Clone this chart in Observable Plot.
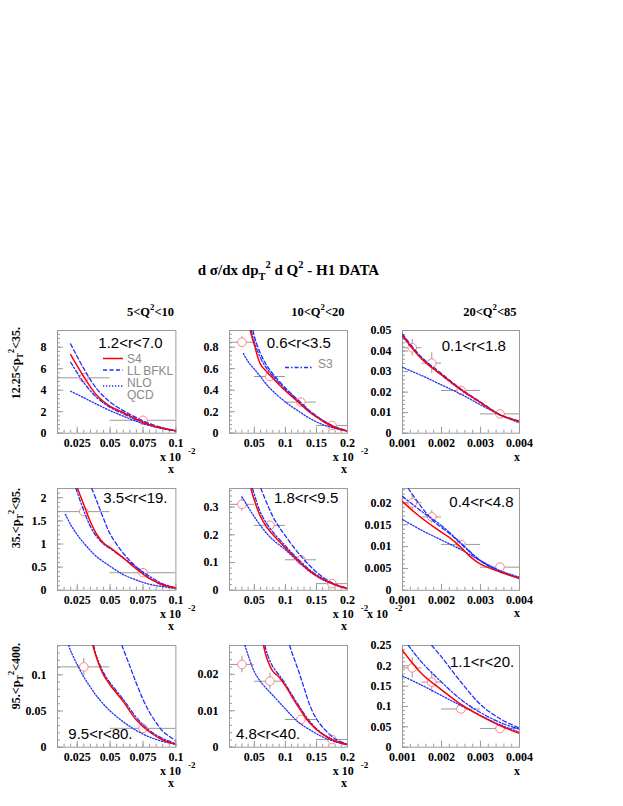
<!DOCTYPE html>
<html><head><meta charset="utf-8">
<script src="https://cdn.jsdelivr.net/npm/d3@7"></script>
<script src="https://cdn.jsdelivr.net/npm/@observablehq/plot@0.6"></script>
<style>
body{margin:0;background:#fff;}
#root{position:relative;width:623px;height:806px;overflow:hidden;background:#fff;}
.panel{position:absolute;}
#overlay{position:absolute;left:0;top:0;pointer-events:none;}
</style></head><body><div id="root"></div>
<script>
// ---------------- data ----------------
const q2Edges = ["5", "10", "20", "85"];
const pt2Edges = ["12.25", "35.", "95.", "400."];
const rRanges = ["1.2<r<7.0", "0.6<r<3.5", "0.1<r<1.8", "3.5<r<19.", "1.8<r<9.5", "0.4<r<4.8", "9.5<r<80.", "4.8<r<40.", "1.1<r<20."];
const xDomains = [[0.01, 0.1], [0.01, 0.2], [0.001, 0.004]];
const yMax = [9.55, 0.955, 0.05, 2.2, 0.367, 0.0233, 0.1405, 0.0279, 0.25];
const xTickLabels = [["0.025", "0.05", "0.075", "0.1"], ["0.05", "0.1", "0.15", "0.2"], ["0.001", "0.002", "0.003", "0.004"]];
const yTickLabels = [["0", "2", "4", "6", "8"], ["0", "0.2", "0.4", "0.6", "0.8"], ["0", "0.01", "0.02", "0.03", "0.04", "0.05"],
  ["0", "0.5", "1", "1.5", "2"], ["0", "0.1", "0.2", "0.3"], ["0", "0.005", "0.01", "0.015", "0.02"],
  ["0", "0.05", "0.1"], ["0", "0.01", "0.02"], ["0", "0.05", "0.1", "0.15", "0.2", "0.25"]];
const xBinEdges = [[0.01, 0.05, 0.1], [0.01, 0.05, 0.1, 0.15, 0.2], [0.001, 0.0015, 0.002, 0.003, 0.004]];
const xCenters = [[0.03, 0.075], [0.03, 0.075, 0.125, 0.175], [0.00125, 0.00175, 0.0025, 0.0035]];
const h1Y = [[5.15, 1.2], [0.846, 0.527, 0.289, 0.072], [0.0416, 0.0341, 0.0208, 0.0094],
  [1.7, 0.38], [0.31, 0.234, 0.11, 0.024], [0.02, 0.0168, 0.0105, 0.0053],
  [0.111, 0.026], [0.0227, 0.0181, 0.0076, 0.0021], [0.195, 0.16, 0.094, 0.046]];
const h1Err = [[0.15, 0.08], [0.05, 0.04, 0.02, 0.01], [0.004, 0.005, 0.002, 0.001],
  [0.08, 0.04], [0.025, 0.016, 0.008, 0.003], [0.0019, 0.0015, 0.0008, 0.0004],
  [0.012, 0.003], [0.0023, 0.0022, 0.0008, 0.0003], [0.025, 0.026, 0.006, 0.003]];

const s4 = [
  [[0.02,7.3],[0.03,5.25],[0.04,3.5],[0.05,2.5],[0.06,1.92],[0.07,1.3],[0.08,0.78],[0.09,0.45],[0.1,0.22]],
  [[0.0433,0.955],[0.05,0.82],[0.06,0.64],[0.07,0.57],[0.08,0.51],[0.1,0.394],[0.12,0.293],[0.14,0.19],[0.16,0.113],[0.18,0.05],[0.2,0.02]],
  [[0.001,0.0476],[0.0015,0.036],[0.002,0.0285],[0.0025,0.0212],[0.003,0.015],[0.0035,0.0089],[0.004,0.0057]],
  [[0.0252,2.2],[0.03,1.85],[0.035,1.48],[0.04,1.2],[0.045,1.02],[0.05,0.92],[0.06,0.7],[0.07,0.46],[0.08,0.25],[0.09,0.12],[0.1,0.05]],
  [[0.0444,0.367],[0.05,0.325],[0.06,0.265],[0.07,0.228],[0.08,0.2],[0.1,0.153],[0.12,0.108],[0.14,0.068],[0.16,0.04],[0.18,0.02],[0.2,0.006]],
  [[0.001,0.0203],[0.00137,0.0174],[0.0018,0.0145],[0.00223,0.0119],[0.0025,0.0098],[0.00275,0.0076],[0.003,0.006],[0.0035,0.0042],[0.004,0.0027]],
  [[0.0369,0.1405],[0.04,0.122],[0.045,0.1],[0.05,0.086],[0.06,0.063],[0.07,0.0375],[0.08,0.021],[0.09,0.01],[0.1,0.004]],
  [[0.0648,0.0279],[0.07,0.0245],[0.08,0.0208],[0.09,0.0192],[0.1,0.0168],[0.12,0.0113],[0.14,0.0065],[0.16,0.0035],[0.18,0.0017],[0.2,0.0007]],
  [[0.001,0.238],[0.0015,0.18],[0.002,0.141],[0.0025,0.105],[0.003,0.077],[0.0035,0.053],[0.004,0.034]]
];
const bfkl = [
  [[0.02,8.3],[0.03,6.0],[0.04,4.1],[0.05,2.9],[0.06,2.1],[0.07,1.45],[0.08,0.9],[0.09,0.5],[0.1,0.22]],
  [[0.048,0.955],[0.05,0.9],[0.06,0.74],[0.07,0.63],[0.08,0.55],[0.1,0.42],[0.12,0.31],[0.14,0.205],[0.16,0.12],[0.18,0.06],[0.2,0.022]],
  [[0.001,0.0482],[0.0015,0.0368],[0.002,0.029],[0.0025,0.0215],[0.003,0.0152],[0.0035,0.0091],[0.004,0.0058]],
  [[0.036,2.2],[0.04,1.92],[0.045,1.55],[0.05,1.22],[0.06,0.8],[0.07,0.5],[0.08,0.26],[0.09,0.11],[0.1,0.05]],
  [[0.0605,0.367],[0.07,0.315],[0.08,0.265],[0.09,0.228],[0.1,0.196],[0.12,0.137],[0.14,0.087],[0.16,0.048],[0.18,0.022],[0.2,0.007]],
  [[0.00115,0.0233],[0.0015,0.0189],[0.0018,0.0158],[0.00223,0.0128],[0.00265,0.0094],[0.003,0.0067],[0.0035,0.0044],[0.004,0.0028]],
  [[0.059,0.1405],[0.065,0.112],[0.07,0.088],[0.075,0.066],[0.08,0.048],[0.085,0.034],[0.09,0.022],[0.095,0.015],[0.1,0.009]],
  [[0.107,0.0279],[0.11,0.0262],[0.12,0.0215],[0.13,0.0163],[0.14,0.0112],[0.15,0.0078],[0.16,0.0055],[0.18,0.0023],[0.2,0.0008]],
  [[0.00175,0.25],[0.002,0.222],[0.0025,0.16],[0.003,0.105],[0.0035,0.07],[0.004,0.047]]
];
const s3 = [
  [[0.02,6.6],[0.03,4.7],[0.04,3.3],[0.05,2.4],[0.06,1.8],[0.07,1.25],[0.08,0.8],[0.09,0.45],[0.1,0.2]],
  [[0.045,0.955],[0.05,0.85],[0.06,0.7],[0.07,0.6],[0.08,0.53],[0.1,0.41],[0.12,0.305],[0.14,0.2],[0.16,0.12],[0.18,0.058],[0.2,0.021]],
  [[0.001,0.047],[0.0015,0.0362],[0.002,0.0283],[0.0025,0.021],[0.003,0.0148],[0.0035,0.0088],[0.004,0.0056]],
  [[0.024,2.2],[0.03,1.72],[0.035,1.38],[0.04,1.15],[0.045,1.0],[0.05,0.9],[0.06,0.7],[0.07,0.5],[0.08,0.3],[0.09,0.14],[0.1,0.05]],
  [[0.047,0.367],[0.05,0.345],[0.06,0.28],[0.07,0.24],[0.08,0.21],[0.1,0.16],[0.12,0.113],[0.14,0.072],[0.16,0.042],[0.18,0.021],[0.2,0.006]],
  [[0.001,0.0215],[0.0015,0.018],[0.002,0.0148],[0.0025,0.0108],[0.003,0.0068],[0.0035,0.0043],[0.004,0.0028]],
  [[0.0375,0.1405],[0.04,0.124],[0.045,0.103],[0.05,0.089],[0.06,0.066],[0.07,0.041],[0.08,0.023],[0.09,0.012],[0.1,0.005]],
  [[0.067,0.0279],[0.07,0.026],[0.08,0.022],[0.09,0.0198],[0.1,0.0173],[0.12,0.0118],[0.14,0.0069],[0.16,0.0037],[0.18,0.0018],[0.2,0.0008]],
  [[0.00115,0.25],[0.0015,0.208],[0.002,0.16],[0.0025,0.117],[0.003,0.085],[0.0035,0.061],[0.004,0.044]]
];
const nlo = [
  [[0.02,3.9],[0.03,3.3],[0.04,2.68],[0.05,2.1],[0.06,1.58],[0.07,1.1],[0.08,0.7],[0.09,0.42],[0.1,0.2]],
  [[0.0325,0.74],[0.04,0.665],[0.05,0.595],[0.06,0.525],[0.07,0.45],[0.08,0.39],[0.1,0.29],[0.12,0.21],[0.14,0.135],[0.16,0.08],[0.18,0.045],[0.2,0.02]],
  [[0.001,0.032],[0.0015,0.028],[0.002,0.0235],[0.0025,0.019],[0.003,0.0138],[0.0035,0.009],[0.004,0.005]],
  [[0.016,1.64],[0.02,1.42],[0.025,1.2],[0.03,1.02],[0.035,0.86],[0.04,0.72],[0.05,0.52],[0.06,0.34],[0.07,0.22],[0.08,0.13],[0.09,0.08],[0.1,0.04]],
  [[0.03,0.337],[0.04,0.3],[0.05,0.265],[0.06,0.233],[0.07,0.205],[0.08,0.182],[0.1,0.146],[0.12,0.105],[0.14,0.066],[0.16,0.038],[0.18,0.019],[0.2,0.005]],
  [[0.001,0.0162],[0.0015,0.0137],[0.002,0.0115],[0.0025,0.0093],[0.003,0.0068],[0.0035,0.0045],[0.004,0.003]],
  [[0.0185,0.1405],[0.02,0.133],[0.025,0.114],[0.03,0.097],[0.035,0.083],[0.04,0.07],[0.05,0.05],[0.06,0.035],[0.07,0.023],[0.08,0.014],[0.09,0.008],[0.1,0.004]],
  [[0.035,0.0279],[0.04,0.0252],[0.05,0.0207],[0.06,0.018],[0.07,0.016],[0.08,0.0142],[0.1,0.0105],[0.12,0.007],[0.14,0.0047],[0.16,0.0028],[0.18,0.0015],[0.2,0.0006]],
  [[0.001,0.175],[0.0015,0.152],[0.002,0.127],[0.0025,0.102],[0.003,0.078],[0.0035,0.055],[0.004,0.037]]
];

// ---------------- layout ----------------
const colLeft = [57.3, 229.3, 402.3], colW = [118.4, 118, 117];
const rowTop = [330, 487.5, 645], rowH = [102.7, 101.8, 101.7];
const ML = 50, MR = 25, MT = 8, MB = 30;
const GRAY = "#9a9a9a";
const SERIF = "'Liberation Serif','Times New Roman',serif";
const SANS = "'Liberation Sans',Arial,Helvetica,sans-serif";

const root = document.getElementById("root");

function minorTicks(domain, step) {
  const a = Math.ceil(domain[0] / step - 1e-6), b = Math.floor(domain[1] / step + 1e-6);
  return d3.range(a, b + 1).map(i => +(i * step).toPrecision(10));
}

for (let i = 0; i < 9; i++) {
  const row = Math.floor(i / 3), col = i % 3;
  const fw = colW[col], fh = rowH[row];
  const xd = xDomains[col], yd = [0, yMax[i]];
  const xLab = xTickLabels[col], yLab = yTickLabels[i];
  const xVals = xLab.map(Number), yVals = yLab.map(Number);
  const xMinor = minorTicks(xd, (xVals[1] - xVals[0]) / 5);
  const yMinor = minorTicks(yd, (yVals[1] - yVals[0]) / 5);
  const pts = xCenters[col].map((x, j) => ({
    x, x1: xBinEdges[col][j], x2: xBinEdges[col][j + 1], y: h1Y[i][j], e: h1Err[i][j]
  }));
  const curve = "catmull-rom";
  const chart = Plot.plot({
    width: ML + fw + MR, height: MT + fh + MB,
    marginLeft: ML, marginRight: MR, marginTop: MT, marginBottom: MB,
    x: {domain: xd}, y: {domain: yd},
    style: {background: "transparent", fontFamily: SERIF, fontSize: "12px", fontWeight: "bold", color: "#000", overflow: "visible"},
    marks: [
      Plot.frame({stroke: GRAY, strokeWidth: 1}),
      Plot.tickY(yMinor, {y: d => d, stroke: GRAY, insetRight: fw - 3}),
      Plot.tickY(yVals, {y: d => d, stroke: GRAY, insetRight: fw - 6}),
      Plot.tickX(xMinor, {x: d => d, stroke: GRAY, insetTop: fh - 3}),
      Plot.tickX(xVals, {x: d => d, stroke: GRAY, insetTop: fh - 6}),
      Plot.axisY(yVals, {tickSize: 0, tickPadding: 11, label: null, tickFormat: d => yLab[yVals.indexOf(d)]}),
      Plot.axisX(xVals, {tickSize: 0, tickPadding: 5, label: null, tickFormat: d => xLab[xVals.indexOf(d)]}),
      Plot.ruleY(pts, {y: "y", x1: "x1", x2: "x2", stroke: GRAY, strokeWidth: 1, clip: true}),
      Plot.ruleX(pts, {x: "x", y1: d => d.y - d.e, y2: d => d.y + d.e, stroke: GRAY, strokeWidth: 1, clip: true}),
      Plot.dot(pts, {x: "x", y: "y", r: 4.3, stroke: "#ff8080", strokeWidth: 1, fill: "white"}),
      Plot.line(nlo[i], {x: d => d[0], y: d => d[1], stroke: "#1f2fff", strokeWidth: 1.3, strokeDasharray: "1.3,1.7", curve, clip: true}),
      Plot.line(s3[i], {x: d => d[0], y: d => d[1], stroke: "#1f2fff", strokeWidth: 1.3, strokeDasharray: "4,2,1.5,2", curve, clip: true}),
      Plot.line(bfkl[i], {x: d => d[0], y: d => d[1], stroke: "#1f2fff", strokeWidth: 1.3, strokeDasharray: "4,2.5", curve, clip: true}),
      Plot.line(s4[i], {x: d => d[0], y: d => d[1], stroke: "#ff0000", strokeWidth: 1.5, curve, clip: true})
    ]
  });
  const div = document.createElement("div");
  div.className = "panel";
  div.style.left = (colLeft[col] - ML) + "px";
  div.style.top = (rowTop[row] - MT) + "px";
  div.appendChild(chart);
  root.appendChild(div);
}

// ---------------- text overlay ----------------
const svg = d3.select(root).append("svg").attr("id", "overlay").attr("width", 623).attr("height", 806);

function rich(x, y, parts, fs, attrs, transform) {
  const t = svg.append("text").attr("font-size", fs);
  if (transform) t.attr("transform", transform); else t.attr("x", x).attr("y", y);
  for (const k in attrs) t.attr(k, attrs[k]);
  let cur = 0;
  for (const [s, kind] of parts) {
    const target = kind === "sub" ? 0.3 * fs : kind === "sup" ? -0.45 * fs : 0;
    const ts = t.append("tspan").text(s).attr("dy", target - cur);
    if (kind !== "n") ts.attr("font-size", fs * 0.7);
    cur = target;
  }
  return t;
}

// main title
rich(288.5, 275, [["d σ/dx dp", "n"], ["T", "sub"], ["2", "sup"], [" d Q", "n"], ["2", "sup"], [" - H1 DATA", "n"]], 15,
  {"font-family": SERIF, "font-weight": "bold", "text-anchor": "middle"});

// column headers (right-aligned near frame right edges)
const headRight = [174, 344.5, 516.5];
for (let c = 0; c < 3; c++) {
  rich(headRight[c], 316, [[q2Edges[c] + "<Q", "n"], ["2", "sup"], ["<" + q2Edges[c + 1], "n"]], 12.5,
    {"font-family": SERIF, "font-weight": "bold", "text-anchor": "end"});
}
// row labels
const rowLabTop = [327, 488, 643];
for (let r = 0; r < 3; r++) {
  rich(0, 0, [[pt2Edges[r] + "<p", "n"], ["T", "sub"], ["2", "sup"], ["<" + pt2Edges[r + 1], "n"]], 12,
    {"font-family": SERIF, "font-weight": "bold", "text-anchor": "end"}, `translate(19.5,${rowLabTop[r]}) rotate(-90)`);
}
// r ranges in panels
const rPos = [[98.3, 348], [266.7, 348], [441.7, 351], [103.3, 503], [274, 503], [449.3, 507], [68.3, 738.5], [236, 738.5], [450, 667]];
rRanges.forEach((s, i) => {
  svg.append("text").attr("x", rPos[i][0]).attr("y", rPos[i][1]).attr("font-family", SANS)
    .attr("font-size", 15).attr("fill", "#000").text(s);
});

// legend (panel 1 and 2)
const leg = svg.append("g");
leg.append("line").attr("x1", 103).attr("x2", 123).attr("y1", 358.5).attr("y2", 358.5).attr("stroke", "#ff0000").attr("stroke-width", 1.5);
leg.append("line").attr("x1", 103).attr("x2", 123).attr("y1", 370).attr("y2", 370).attr("stroke", "#1f2fff").attr("stroke-width", 1.3).attr("stroke-dasharray", "4,2.5");
leg.append("line").attr("x1", 103).attr("x2", 123).attr("y1", 386).attr("y2", 386).attr("stroke", "#1f2fff").attr("stroke-width", 1.3).attr("stroke-dasharray", "1.3,1.7");
leg.append("line").attr("x1", 285).attr("x2", 313).attr("y1", 367.5).attr("y2", 367.5).attr("stroke", "#1f2fff").attr("stroke-width", 1.3).attr("stroke-dasharray", "4,2,1.5,2");
const legTexts = [["S4", 127, 362.5], ["LL BFKL", 127, 374.5], ["NLO", 127, 386.5], ["QCD", 127, 399], ["S3", 318, 367.5]];
legTexts.forEach(([s, x, y]) => svg.append("text").attr("x", x).attr("y", y).attr("font-family", SANS)
  .attr("font-size", 12).attr("fill", "#8a8a8a").text(s));

// axis titles "x 10^-2" and "x"
const rowBottom = rowTop.map((t, r) => t + rowH[r]);
const sfx = {"font-family": SERIF, "font-weight": "bold"};
for (let r = 0; r < 3; r++) {
  const B = rowBottom[r];
  const xs10 = r === 1 ? [160, 332.7, 367] : [160, 332.7];
  xs10.forEach(x => {
    const t = svg.append("text").attr("x", x).attr("y", B + 28.5).attr("font-size", 12).text("x 10");
    for (const k in sfx) t.attr(k, sfx[k]);
    const e = svg.append("text").attr("x", x + 28).attr("y", B + 21.5).attr("font-size", 9).text("-2");
    for (const k in sfx) e.attr(k, sfx[k]);
  });
  [[168, B + 40.5], [341, B + 40.5], [514, B + 28]].forEach(([x, y]) => {
    const t = svg.append("text").attr("x", x).attr("y", y).attr("font-size", 12).text("x");
    for (const k in sfx) t.attr(k, sfx[k]);
  });
}
</script></body></html>
